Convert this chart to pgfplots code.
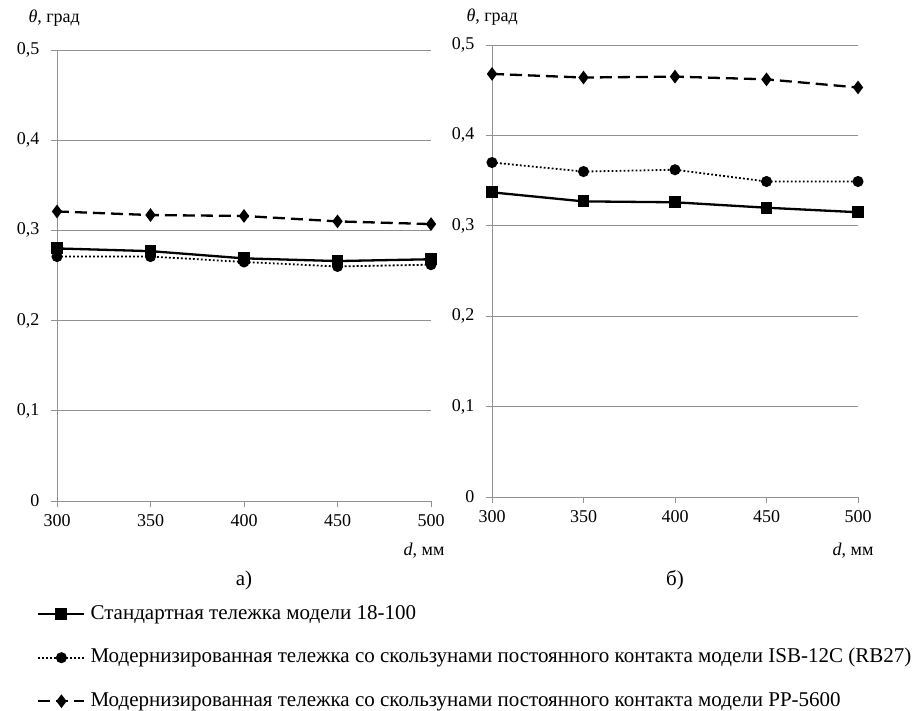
\documentclass[border=0pt]{standalone}
\usepackage{fontspec}
\setmainfont{Liberation Serif}
\usepackage{pgfplots}
\pgfplotsset{compat=1.18}
\definecolor{gridgray}{RGB}{145,145,145}
\pgfplotsset{
  myaxis/.style={
    scale only axis,
    xmin=300, xmax=500, ymin=0, ymax=0.5,
    xtick={300,350,400,450,500},
    ytick={0,0.1,0.2,0.3,0.4,0.5},
    axis x line*=bottom, axis y line*=left,
    axis line style={gridgray, line width=0.8pt},
    ymajorgrids, grid style={gridgray, line width=0.8pt},
    tick style={gridgray, line width=0.8pt},
    tick align=outside, major tick length=6pt,
    ticklabel style={font=\fontsize{18}{18}\selectfont, black},
    /pgf/number format/assume math mode=true,
    /pgf/number format/use comma,
    yticklabel style={/pgf/number format/fixed, /pgf/number format/precision=1, xshift=-8pt},
    xticklabel style={yshift=-4pt},
    clip=false,
  },
  sA/.style={black, line width=2.3pt, solid, mark=square*, mark size=4.8pt, mark options={solid}},
  sB/.style={black, line width=1.8pt, dash pattern=on 1.8pt off 2.2pt, mark=*, mark size=4.6pt, mark options={solid}},
  sC/.style={black, line width=2.3pt, dash pattern=on 12pt off 6pt, mark=diamond*, mark size=5pt, mark options={solid}},
}
\begin{document}
\begin{tikzpicture}[x=1pt,y=1pt]
\useasboundingbox (0,0) rectangle (924,711);
\begin{axis}[myaxis,
  at={(57pt,210pt)}, anchor=south west,
  width=374pt, height=451pt,
  legend style={at={(axis description cs:-0.0533,-0.2284)}, anchor=north west,
    draw=none, fill=none, inner sep=0pt,
    font=\fontsize{21}{21}\selectfont, row sep=23.5pt, column sep=5pt,
    nodes={inner sep=0pt, text height=15pt, text depth=5pt},
    cells={anchor=west}},
  legend cell align=left,
  legend image code/.code={\draw[mark repeat=2,mark phase=2,#1] plot coordinates {(0pt,0pt) (23pt,0pt) (46pt,0pt)};},
]
\addplot[sA] coordinates {(300,0.280) (350,0.277) (400,0.269) (450,0.266) (500,0.268)};
\addlegendentry{Стандартная тележка модели 18-100}
\addplot[sB] coordinates {(300,0.271) (350,0.271) (400,0.265) (450,0.260) (500,0.262)};
\addlegendentry{Модернизированная тележка со скользунами постоянного контакта модели ISB-12C (RB27)}
\addplot[sC] coordinates {(300,0.321) (350,0.317) (400,0.316) (450,0.310) (500,0.307)};
\addlegendentry{Модернизированная тележка со скользунами постоянного контакта модели PP-5600}
\end{axis}
\begin{axis}[myaxis,
  at={(492pt,214pt)}, anchor=south west,
  width=366pt, height=452pt,
]
\addplot[sA] coordinates {(300,0.337) (350,0.327) (400,0.326) (450,0.320) (500,0.315)};
\addplot[sB] coordinates {(300,0.370) (350,0.360) (400,0.362) (450,0.349) (500,0.349)};
\addplot[sC] coordinates {(300,0.468) (350,0.464) (400,0.465) (450,0.462) (500,0.453)};
\end{axis}
\node[anchor=west, font=\fontsize{18}{18}\selectfont] at (25,693) {\textit{θ}, град};
\node[anchor=west, font=\fontsize{18}{18}\selectfont] at (463,694) {\textit{θ}, град};
\node[anchor=east, font=\fontsize{18}{18}\selectfont] at (448,160) {\textit{d}, мм};
\node[anchor=east, font=\fontsize{18}{18}\selectfont] at (877,160) {\textit{d}, мм};
\node[font=\fontsize{21}{21}\selectfont] at (244,131) {а)};
\node[font=\fontsize{21}{21}\selectfont] at (675,131) {б)};
\end{tikzpicture}
\end{document}
